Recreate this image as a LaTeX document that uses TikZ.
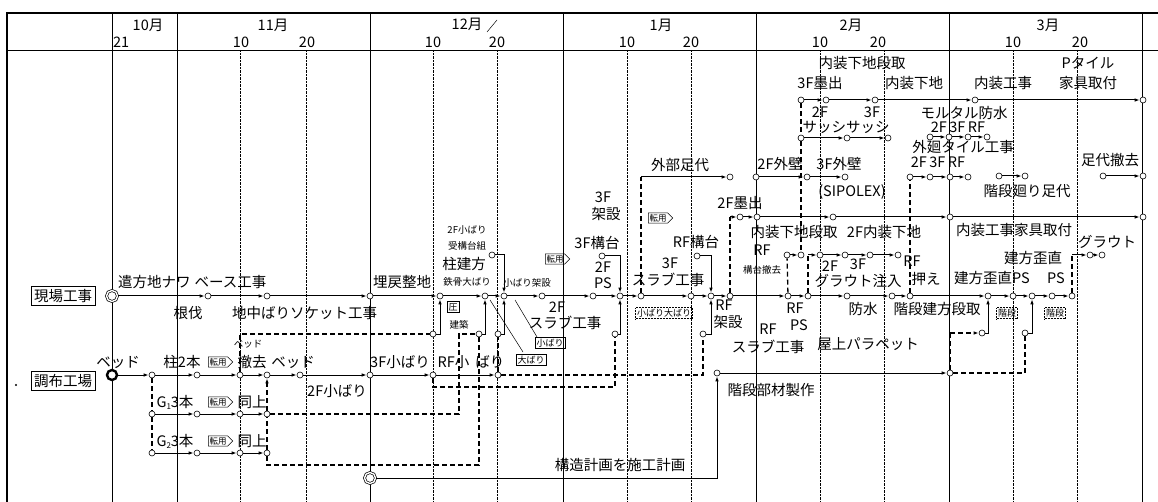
\documentclass[tikz,border=0pt]{standalone}
\usepackage{fontspec}
\setmainfont{Noto Sans CJK JP}
\usetikzlibrary{arrows.meta,shapes.symbols}
\begin{document}
\begin{tikzpicture}[x=1pt,y=-1pt,
 ev/.style={circle,draw,fill=white,inner sep=0pt,minimum size=6pt,line width=0.6pt},
 st/.style={circle,draw,fill=white,inner sep=0pt,minimum size=11pt,line width=0.7pt,double,double distance=1.4pt},
 stb/.style={circle,draw,fill=white,inner sep=0pt,minimum size=10pt,line width=2.4pt},
 act/.style={line width=1pt,-{Latex[length=5pt,width=3.5pt]}},
 dmy/.style={line width=1.3pt,dash pattern=on 5pt off 3pt},
 dmya/.style={dmy,-{Latex[length=5pt,width=3.5pt]}},
 lb/.style={inner sep=0pt,font=\fontsize{14.5}{14.5}\selectfont},
 sm/.style={inner sep=0pt,font=\fontsize{9.5}{10}\selectfont},
 tag/.style={signal,signal to=east,draw,line width=0.5pt,inner sep=1.2pt,font=\fontsize{8.5}{9}\selectfont},
 bx/.style={draw,line width=0.5pt,inner sep=1.5pt,font=\fontsize{9}{9}\selectfont},
 dbx/.style={bx,densely dotted},
 gridl/.style={line width=0.4pt,densely dotted},
 mline/.style={line width=0.7pt},
 thin/.style={line width=0.5pt}]
\useasboundingbox (0,0) rectangle (1158,502);
% ---------- frame and grid ----------
\draw[line width=1.6pt] (7,502) -- (7,13) -- (1158,13);
\draw[line width=0.8pt] (7,50) -- (1158,50);
\foreach \x in {112,177,370,563,756,949,1142} \draw[mline] (\x,13) -- (\x,502);
\foreach \x in {240,306,433,497,627,691,820,884,1013,1077} \draw[gridl] (\x,50) -- (\x,502);
% ---------- header ----------
\node[lb] (h1) at (148,25) {10月};
\node[lb,anchor=west] (h2) at (113,42) {21};
\node[lb] (h3) at (273,25) {11月};
\node[lb] (h4) at (241,42) {10};
\node[lb] (h5) at (307,42) {20};
\node[lb] (h6) at (467,24) {12月};
\draw[thin] (487,32) -- (497,20);
\node[lb] (h7) at (433,42) {10};
\node[lb] (h8) at (497,42) {20};
\node[lb] (h9) at (661,25) {1月};
\node[lb] (h10) at (627,42) {10};
\node[lb] (h11) at (691,42) {20};
\node[lb] (h12) at (851,25) {2月};
\node[lb] (h13) at (820,42) {10};
\node[lb] (h14) at (878,42) {20};
\node[lb] (h15) at (1048,25) {3月};
\node[lb] (h16) at (1013,42) {10};
\node[lb] (h17) at (1080,42) {20};
% ---------- left column ----------
\node[lb,draw,line width=0.6pt,inner sep=3pt] (L1) at (63,296) {現場工事};
\node[lb,draw,line width=0.6pt,inner sep=3pt] (L2) at (63,381) {調布工場};
\fill (16,385) circle (1.2pt);
% ---------- events row A ----------
\node[st] (A0) at (112,296) {};
\foreach \n/\x in {1/208,2/267,3/370,4/440,5/485,6/504,7/542,8/593,9/620,10/641,11/691,12/711,13/730,14/788,15/808,16/847,17/892,18/910,19/988,20/1013,21/1032,22/1052,23/1072}
  \node[ev] (A\n) at (\x,296) {};
% upper events
\node[ev] (U1) at (492,255) {};
\node[ev] (U2) at (602,256) {};
\node[ev] (U3) at (697,256) {};
\node[ev] (V1) at (730,177) {};
\node[ev] (D1) at (740,217) {};
\node[ev] (D2) at (757,217) {};
\node[ev] (D3) at (833,217) {};
\node[ev] (D4) at (950,217) {};
\node[ev] (D5) at (1143,217) {};
\node[ev] (H0) at (756,177) {};
\node[ev] (H1) at (807,177) {};
\node[ev] (H2) at (845,177) {};
\node[ev] (E0) at (801,100) {};
\node[ev] (E1) at (826,100) {};
\node[ev] (E2) at (875,100) {};
\node[ev] (E3) at (975,100) {};
\node[ev] (E4) at (1143,100) {};
\node[ev] (F0) at (801,138) {};
\node[ev] (F1) at (847,138) {};
\node[ev] (F2) at (888,138) {};
\node[ev] (T0) at (930,137) {};
\node[ev] (T1) at (949,137) {};
\node[ev] (T2) at (968,137) {};
\node[ev] (T3) at (987,137) {};
\node[ev] (J0) at (910,177) {};
\node[ev] (J1) at (930,177) {};
\node[ev] (J2) at (950,177) {};
\node[ev] (J3) at (968,177) {};
\node[ev] (K0) at (999,176) {};
\node[ev] (K1) at (1025,176) {};
\node[ev] (K2) at (1103,176) {};
\node[ev] (K3) at (1143,176) {};
\node[ev] (W0) at (787,255) {};
\node[ev] (W1) at (801,255) {};
\node[ev] (M1) at (820,255) {};
\node[ev] (M2) at (845,255) {};
\node[ev] (M3) at (870,255) {};
\node[ev] (M4) at (898,255) {};
\node[ev] (N0) at (1090,255) {};
\node[ev] (N1) at (1102,255) {};
% lower events
\node[ev] (C1) at (433,334) {};
\node[ev] (C2) at (479,334) {};
\node[ev] (C3) at (498,334) {};
\node[ev] (C4) at (615,334) {};
\node[ev] (C5) at (703,334) {};
\node[ev] (R0) at (982,333) {};
\node[ev] (R1) at (1025,333) {};
\node[stb] (B0) at (112,375) {};
\foreach \n/\x in {1/152,2/197,3/240,4/267,5/300,6/370,7/433,8/498}
  \node[ev] (B\n) at (\x,375) {};
\foreach \n/\x in {1/152,2/197,3/240,4/267} {
  \node[ev] (Ga\n) at (\x,414) {};
  \node[ev] (Gb\n) at (\x,453) {};
}
\node[ev] (Q0) at (717,373) {};
\node[ev] (Q1) at (950,373) {};
\node[st] (P0) at (370,478) {};
% corner coordinates
\coordinate (v0) at (641,177);
\coordinate (d0) at (730,217);
\coordinate (m0) at (808,255);
\coordinate (n0) at (1072,255);
\coordinate (r0) at (950,333);
\coordinate (g1a) at (459,414);
\coordinate (g1b) at (459,334);
\coordinate (g2a) at (267,465);
\coordinate (g2b) at (479,465);
\coordinate (b7a) at (433,387);
\coordinate (b7b) at (615,387);
\coordinate (s1a) at (490,300);
\coordinate (s1b) at (523,352);
\coordinate (s2a) at (515,300);
\coordinate (s2b) at (537,337);
% ---------- connectors ----------
\foreach \i/\j in {0/1,1/2,2/3,3/4,4/5,5/6,6/7,7/8,8/9,9/10,10/11,11/12,12/13,13/14,14/15,15/16,16/17,17/18,18/19,19/20,20/21,21/22,22/23}
  \draw[act] (A\i) -- (A\j);
\draw[act] (U1) -| (A6);
\draw[act] (U2) -| (A9);
\draw[act] (U3) -| (A12);
\draw[dmy] (A10) -- (v0);
\draw[act] (v0) -- (V1);
\draw[dmy] (A13) -- (d0);
\draw[act] (d0) -- (D1);
\draw[act] (D1) -- (D2);
\draw[act] (D2) -- (D3);
\draw[act] (D3) -- (D4);
\draw[act] (D4) -- (D5);
\draw[act] (H0) -- (H1);
\draw[act] (H1) -- (H2);
\draw[act] (E0) -- (E1);
\draw[act] (E1) -- (E2);
\draw[act] (E2) -- (E3);
\draw[act] (E3) -- (E4);
\draw[act] (F0) -- (F1);
\draw[act] (F1) -- (F2);
\draw[dmy] (E0) -- (F0);
\draw[dmy] (F0) -- (W1);
\draw[act] (T0) -- (T1);
\draw[act] (T1) -- (T2);
\draw[act] (T2) -- (T3);
\draw[dmy] (A18) -- (J0);
\draw[act] (J0) -- (J1);
\draw[act] (J1) -- (J2);
\draw[act] (J2) -- (J3);
\draw[act] (K0) -- (K1);
\draw[act] (K2) -- (K3);
\draw[dmy] (A14) -- (W0);
\draw[act] (W0) -- (W1);
\draw[dmy] (A15) -- (m0);
\draw[act] (m0) -- (M1);
\draw[act] (M1) -- (M2);
\draw[act] (M2) -- (M3);
\draw[act] (M3) -- (M4);
\draw[dmy] (A23) -- (n0);
\draw[act] (n0) -- (N0);
\draw[act] (N0) -- (N1);
% lower connectors
\draw[act] (C1) -| (A4);
\draw[act] (C2) -| (A5);
\draw[act] (C3) -| (A6);
\draw[act] (C4) -| (A9);
\draw[act] (C5) -| (A12);
\foreach \i/\j in {0/1,1/2,2/3,3/4,4/5,5/6,6/7,7/8}
  \draw[act] (B\i) -- (B\j);
\foreach \i/\j in {1/2,2/3,3/4} {
  \draw[act] (Ga\i) -- (Ga\j);
  \draw[act] (Gb\i) -- (Gb\j);
}
\draw[dmy] (B1) -- (Ga1);
\draw[dmy] (Ga1) -- (Gb1);
\draw[dmy] (Gb4) -- (Ga4);
\draw[dmya] (Ga4) -- (B4);
\draw[dmy] (Ga4) -- (g1a) -- (g1b) -- (C2);
\draw[dmy] (Gb4) -- (g2a) -- (g2b) -- (C2);
\draw[dmy] (B3) |- (C1);
\draw[dmy] (B7) -- (b7a) -- (b7b) -- (C4);
\draw[dmy] (B8) -- (C3);
\draw[dmy] (B8) -| (C5);
\draw[act] (P0) -| (Q0);
\draw[act] (Q0) -- (Q1);
\draw[dmy] (Q1) -- (r0);
\draw[dmya] (r0) -- (R0);
\draw[act] (R0) -| (A19);
\draw[dmy] (Q1) -| (R1);
\draw[act] (R1) -| (A21);
\draw[thin] (s1a) -- (s1b);
\draw[thin] (s2a) -- (s2b);
% ---------- labels ----------
\node[lb,anchor=west] (a1) at (118,282) {遣方地ナワ\hspace{4pt}ベース工事};
\node[lb] (a2) at (188,313) {根伐};
\node[lb,anchor=west] (a3) at (232,313) {地中ばりソケット工事};
\node[lb] (a4) at (402,282) {埋戻整地};
\node[sm] (a5) at (467,230) {2F小ばり};
\node[sm] (a6) at (467,246) {受構台組};
\node[lb] (a7) at (464,264) {柱建方};
\node[sm] (a8) at (467,282) {鉄骨大ばり};
\node[sm] (a9) at (527,283) {小ばり架設};
\node[tag] (a10) at (555,259) {転用};
\node[lb] (a11) at (557,307) {2F};
\node[lb] (a12) at (565,323) {スラブ工事};
\node[bx] (a13) at (550,343) {小ばり};
\node[bx] (a14) at (531,360) {大ばり};
\node[bx] (a15) at (453,307) {圧};
\node[sm] (a16) at (459,325) {建築};
\node[lb] (a17) at (603,197) {3F};
\node[lb] (a18) at (606,214) {架設};
\node[lb] (a19) at (597,243) {3F構台};
\node[lb] (a20) at (603,267) {2F};
\node[lb] (a21) at (603,283) {PS};
\node[lb] (a22) at (680,165) {外部足代};
\node[tag] (a23) at (658,218) {転用};
\node[lb] (a24) at (696,242) {RF構台};
\node[lb] (a25) at (670,263) {3F};
\node[lb] (a26) at (668,280) {スラブ工事};
\node[dbx] (a27) at (664,313) {小ばり大ばり};
\node[lb] (a28) at (724,305) {RF};
\node[lb] (a29) at (728,322) {架設};
\node[lb] (a30) at (740,203) {2F墨出};
\node[lb] (a31) at (780,164) {2F外壁};
\node[lb] (a32) at (839,164) {3F外壁};
\node[lb] (a33) at (852,192) {(SIPOLEX)};
\node[lb] (a34) at (794,232) {内装下地段取};
\node[lb] (a35) at (884,232) {2F内装下地};
\node[lb] (a36) at (762,250) {RF};
\node[sm] (a37) at (762,270) {構台撤去};
\node[lb] (a38) at (830,266) {2F};
\node[lb] (a39) at (858,264) {3F};
\node[lb] (a40) at (858,281) {グラウト注入};
\node[lb] (a41) at (912,261) {RF};
\node[lb] (a42) at (926,279) {押え};
\node[lb] (a43) at (992,278) {建方歪直PS};
\node[lb] (a44) at (1033,258) {建方歪直};
\node[lb] (a45) at (1056,278) {PS};
\node[lb] (a46) at (1107,242) {グラウト};
\node[lb] (a47) at (1014,230) {内装工事家具取付};
\node[lb] (a48) at (863,309) {防水};
\node[lb] (a49) at (937,309) {階段建方段取};
\node[dbx] (a50) at (1007,313) {階段};
\node[dbx] (a51) at (1055,313) {階段};
\node[lb] (a52) at (795,308) {RF};
\node[lb] (a53) at (799,325) {PS};
\node[lb] (a54) at (768,329) {RF};
\node[lb] (a55) at (768,347) {スラブ工事};
\node[lb] (a56) at (868,344) {屋上パラペット};
\node[lb] (a57) at (771,390) {階段部材製作};
\node[lb] (a58) at (620,465) {構造計画を施工計画};
\node[lb] (u1) at (862,63) {内装下地段取};
\node[lb] (u2) at (820,83) {3F墨出};
\node[lb] (u3) at (914,83) {内装下地};
\node[lb] (u4) at (1003,83) {内装工事};
\node[lb] (u5) at (1088,63) {Pタイル};
\node[lb] (u6) at (1088,83) {家具取付};
\node[lb] (u7) at (820,112) {2F};
\node[lb] (u8) at (872,112) {3F};
\node[lb] (u9) at (846,127) {サッシサッシ};
\node[lb] (u10) at (964,113) {モルタル防水};
\node[lb] (u11) at (958,127) {2F\,3F\,RF};
\node[lb] (u12) at (963,147) {外廻タイル工事};
\node[lb] (u13) at (938,162) {2F\,3F\,RF};
\node[lb] (u14) at (1027,191) {階段廻り足代};
\node[lb] (u15) at (1110,160) {足代撤去};
\node[lb] (b1) at (118,362) {ベッド};
\node[lb] (b2) at (182,362) {柱2本};
\node[tag] (b3) at (218,362) {転用};
\node[lb] (b4) at (252,362) {撤去};
\node[sm] (b5) at (248,344) {ベッド};
\node[lb] (b6) at (293,362) {ベッド};
\node[lb] (b7) at (337,391) {2F小ばり};
\node[lb] (b8) at (400,362) {3F小ばり};
\node[lb] (b9) at (471,362) {RF小\hspace{6pt}ばり};
\node[lb] (g1) at (175,402) {G\raisebox{-2pt}{\fontsize{8}{8}\selectfont 1}3本};
\node[tag] (g2) at (218,402) {転用};
\node[lb] (g3) at (252,402) {同上};
\node[lb] (g4) at (175,441) {G\raisebox{-2pt}{\fontsize{8}{8}\selectfont 2}3本};
\node[tag] (g5) at (218,441) {転用};
\node[lb] (g6) at (252,441) {同上};
\end{tikzpicture}
\end{document}
